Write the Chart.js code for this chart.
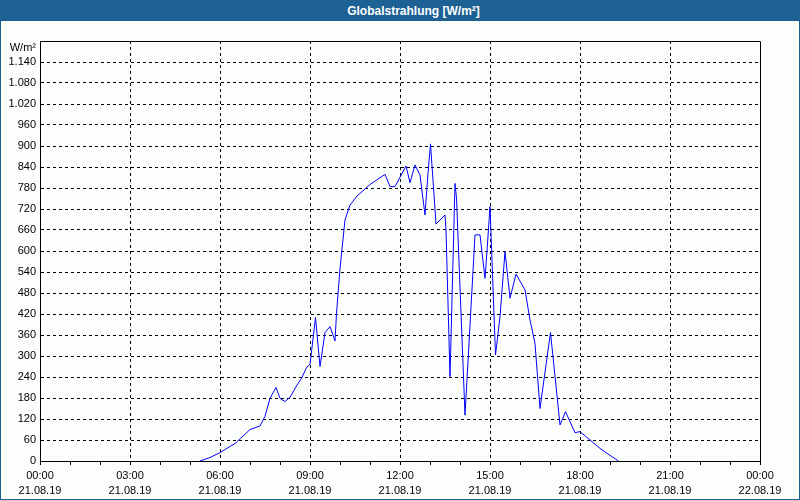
<!DOCTYPE html>
<html>
<head>
<meta charset="utf-8">
<script src="https://cdn.jsdelivr.net/npm/chart.js@4"></script>
<style>
  html, body { margin: 0; padding: 0; background: #fff; }
  #frame {
    position: absolute; left: 0; top: 0; width: 800px; height: 500px;
    box-sizing: border-box; border: 1px solid #1d6194; background: #fcfefc;
  }
  #title {
    position: absolute; left: 0; top: 0; width: 800px; height: 20px;
    background: #1d6194; color: #fff;
    font: bold 12px "Liberation Sans", Arial, sans-serif;
    line-height: 21px; text-align: center; box-sizing: border-box; padding-left: 25px;
  }
  #chart { position: absolute; left: 0; top: 19px; }
</style>
</head>
<body>
<div id="frame">
  <div id="title">Globalstrahlung [W/m²]</div>
  <canvas id="chart" width="798" height="479"></canvas>
</div>
<script>
// Globalstrahlung 21.08.19
const times = [
  '05:20', '05:40', '06:00', '06:30', '07:00', '07:20', '07:30', '07:40', '07:52', '08:00',
  '08:10', '08:20', '08:34', '08:43', '08:53', '09:00', '09:11', '09:20', '09:30', '09:40',
  '09:50', '09:53', '10:00', '10:10', '10:20', '10:34', '11:00', '11:30', '11:40', '11:50',
  '12:12', '12:20', '12:30', '12:40', '12:50', '12:56', '13:01', '13:12', '13:30', '13:32',
  '13:40', '13:50', '13:53', '14:10', '14:30', '14:40', '14:50', '14:54', '15:00', '15:11',
  '15:20', '15:30', '15:40', '15:52', '16:10', '16:20', '16:30', '16:40', '17:01', '17:20',
  '17:31', '17:50', '18:00', '18:20', '18:40', '18:56', '19:17'
];
const radiation = [
  0, 10, 24, 50, 90, 100, 128, 179, 210, 179,
  170, 182, 217, 236, 267, 276, 410, 270, 367, 384,
  343, 422, 550, 689, 731, 757, 790, 819, 784, 784,
  843, 795, 846, 817, 703, 822, 906, 677, 703, 660,
  241, 793, 751, 131, 646, 646, 522, 600, 727, 303,
  412, 598, 465, 534, 489, 403, 336, 150, 367, 103,
  141, 81, 84, 60, 36, 20, 0
];

// x axis labels every 3 hours
const xTickHours = [0, 3, 6, 9, 12, 15, 18, 21, 24];
const xTickTimes = ['00:00', '03:00', '06:00', '09:00', '12:00', '15:00', '18:00', '21:00', '00:00'];
const xTickDates = ['21.08.19', '21.08.19', '21.08.19', '21.08.19', '21.08.19', '21.08.19', '21.08.19', '21.08.19', '22.08.19'];

const yUnit = 'W/m²';
const yMax = 1200;
const yStep = 60;

function toHours(t) {
    const parts = t.split(':');
    return parseInt(parts[0], 10) + parseInt(parts[1], 10) / 60;
}

const points = times.map((t, i) => ({ x: toHours(t), y: radiation[i] }));
const fontFamily = '"Liberation Sans", Arial, sans-serif';

// Frame on top/right of the plot area and the unit label above the y axis
const framePlugin = {
    id: 'frame',
    afterDraw(chart) {
        const ctx = chart.ctx;
        const a = chart.chartArea;
        ctx.save();
        ctx.strokeStyle = '#000';
        ctx.lineWidth = 1;
        ctx.beginPath();
        ctx.moveTo(Math.round(a.left) + 0.5, Math.round(a.top) + 0.5);
        ctx.lineTo(Math.round(a.right) + 0.5, Math.round(a.top) + 0.5);
        ctx.lineTo(Math.round(a.right) + 0.5, Math.round(a.bottom) + 0.5);
        ctx.stroke();
        ctx.fillStyle = '#000';
        ctx.font = '11px ' + fontFamily;
        ctx.textAlign = 'right';
        ctx.textBaseline = 'middle';
        ctx.fillText(yUnit, a.left - 4, a.top + 7);
        ctx.restore();
    }
};

const ctx = document.getElementById('chart').getContext('2d');
new Chart(ctx, {
    type: 'line',
    data: {
        datasets: [{
            data: points,
            borderColor: '#0000ff',
            borderWidth: 1,
            pointRadius: 0,
            tension: 0,
            fill: false
        }]
    },
    options: {
        responsive: false,
        animation: false,
        layout: { padding: { top: 21, right: 39, left: 0, bottom: 0 } },
        plugins: {
            legend: { display: false },
            tooltip: { enabled: false }
        },
        scales: {
            x: {
                type: 'linear',
                min: 0,
                max: 24,
                afterBuildTicks(scale) {
                    const t = [];
                    for (let h = 0; h <= 24; h++) t.push({ value: h });
                    scale.ticks = t;
                },
                afterFit(scale) { scale.height = 38; },
                ticks: {
                    autoSkip: false,
                    maxRotation: 0,
                    color: '#000',
                    padding: 3,
                    font: { family: fontFamily, size: 11, lineHeight: '15px' },
                    callback(value) {
                        const i = xTickHours.indexOf(value);
                        return i < 0 ? '' : [xTickTimes[i], xTickDates[i]];
                    }
                },
                grid: {
                    color(c) {
                        const v = c.tick ? c.tick.value : 0;
                        return (v % 3 === 0 && v > 0 && v < 24) ? '#000' : 'rgba(0,0,0,0)';
                    },
                    tickColor: '#000',
                    tickLength: 4,
                    lineWidth: 1
                },
                border: { color: '#000', width: 1, dash: [3, 3] }
            },
            y: {
                min: 0,
                max: yMax,
                afterFit(scale) { scale.width = 39; },
                ticks: {
                    stepSize: yStep,
                    color: '#000',
                    padding: 4,
                    font: { family: fontFamily, size: 11 },
                    callback(value) {
                        if (value >= yMax) return '';
                        return value.toLocaleString('de-DE');
                    }
                },
                grid: {
                    drawTicks: false,
                    color(c) {
                        const v = c.tick ? c.tick.value : 0;
                        return (v > 0 && v < yMax) ? '#000' : 'rgba(0,0,0,0)';
                    },
                    lineWidth: 1
                },
                border: { color: '#000', width: 1, dash: [3, 3] }
            }
        }
    },
    plugins: [framePlugin]
});
</script>
</body>
</html>
